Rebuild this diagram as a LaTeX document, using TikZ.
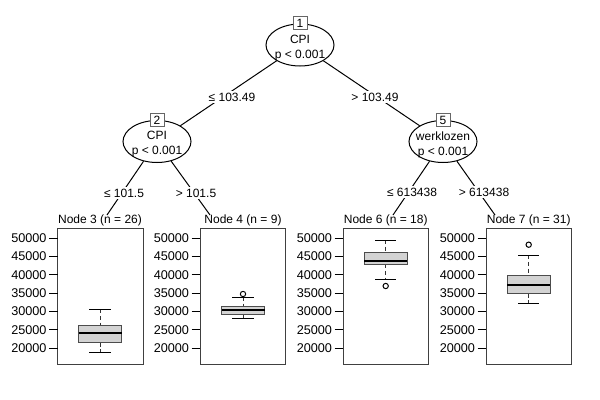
\documentclass[tikz,border=0pt]{standalone}
\usepackage{fontspec}
\setmainfont{Liberation Sans}
\usetikzlibrary{shapes.geometric}

\definecolor{boxgray}{RGB}{211,211,211}

\tikzset{
    split/.style={ellipse, draw, fill=white, minimum width=51pt, minimum height=31.5pt, inner sep=0pt},
    splittxt/.style={align=center, inner sep=0pt, font=\fontsize{9}{11.25}\selectfont},
    idbox/.style={draw=black!60, fill=white, minimum width=10.5pt, minimum height=9.5pt, inner sep=0pt, font=\fontsize{9}{10}\selectfont},
    elabel/.style={fill=white, inner sep=1pt, font=\fontsize{9}{10}\selectfont},
    tlabel/.style={inner sep=0pt, font=\fontsize{9}{10}\selectfont},
    ticklab/.style={anchor=east, inner sep=0pt, font=\fontsize{9.5}{10}\selectfont},
    panel/.style={draw=black!75},
}

% boxplot: centre x, lower whisker, Q1, median, Q3, upper whisker (pixel rows)
\newcommand{\bxplot}[6]{%
    \draw[black!80, dash pattern=on 3pt off 2pt] (#1,#6) -- (#1,#5) (#1,#3) -- (#1,#2);
    \draw (#1-10.7,#6) -- (#1+10.7,#6) (#1-10.7,#2) -- (#1+10.7,#2);
    \draw[fill=boxgray, draw=black!70] (#1-21.5,#3) rectangle (#1+21.5,#5);
    \draw[line width=1.5pt] (#1-21.5,#4) -- (#1+21.5,#4);
}

\begin{document}
\begin{tikzpicture}[x=0.75pt, y=-0.75pt, line width=0.75pt]
    \useasboundingbox[fill=white] (0,0) rectangle (600,400);

    % Inner nodes
    \node[split] (n1) at (300,45) {};
    \node[split] (n2) at (157,141.5) {};
    \node[split] (n5) at (443,141.5) {};

    % Free ends of the edges at the terminal panels
    \coordinate (e3) at (107,215);
    \coordinate (e4) at (210,215);
    \coordinate (e6) at (393,215);
    \coordinate (e7) at (495,215);

    % Edges
    \draw (n1) -- (n2);
    \draw (n1) -- (n5);
    \draw (n2) -- (e3);
    \draw (n2) -- (e4);
    \draw (n5) -- (e6);
    \draw (n5) -- (e7);

    % Split texts and ids
    \node[splittxt] (n1t) at (300,48.5) {CPI\\p < 0.001};
    \node[splittxt] (n2t) at (157,144.5) {CPI\\p < 0.001};
    \node[splittxt] (n5t) at (443,144.5) {werklozen\\p < 0.001};
    \node[idbox] (b1) at (300,23) {1};
    \node[idbox] (b2) at (157,120) {2};
    \node[idbox] (b5) at (443,120) {5};

    % Edge labels
    \node[elabel] (l2) at (232,97) {≤ 103.49};
    \node[elabel] (l5) at (375,97) {> 103.49};
    \node[elabel] (l3) at (124,193) {≤ 101.5};
    \node[elabel] (l4) at (196,193) {> 101.5};
    \node[elabel] (l6) at (412,192) {≤ 613438};
    \node[elabel] (l7) at (484,192) {> 613438};

    % Terminal panels with y axis
    \foreach \px in {57.5,200,343,486} {
        \draw[panel] (\px,228) rectangle (\px+85.5,364);
        \foreach \v in {20,25,...,50} {
            \draw (\px-8.5,{348-(\v-20)*11/3}) -- (\px,{348-(\v-20)*11/3});
            \node[ticklab] at (\px-10.5,{348-(\v-20)*11/3}) {\v000};
        }
    }

    % Panel titles
    \node[tlabel] (t3) at (100,220) {Node 3 (n = 26)};
    \node[tlabel] (t4) at (243,220) {Node 4 (n = 9)};
    \node[tlabel] (t6) at (385.7,220) {Node 6 (n = 18)};
    \node[tlabel] (t7) at (528.7,220) {Node 7 (n = 31)};

    % Boxplots
    \bxplot{100}{352.3}{342.7}{333}{325}{309.3}
    \bxplot{243}{318.3}{314.3}{310}{306}{297}
    \bxplot{385.7}{279.7}{264.3}{261}{252.7}{240}
    \bxplot{528.7}{303.7}{293.7}{285}{275.3}{255.3}

    % Outliers
    \draw (243,294) circle[radius=2pt];
    \draw (385.7,286) circle[radius=2pt];
    \draw (528.7,244.7) circle[radius=2pt];
\end{tikzpicture}
\end{document}
